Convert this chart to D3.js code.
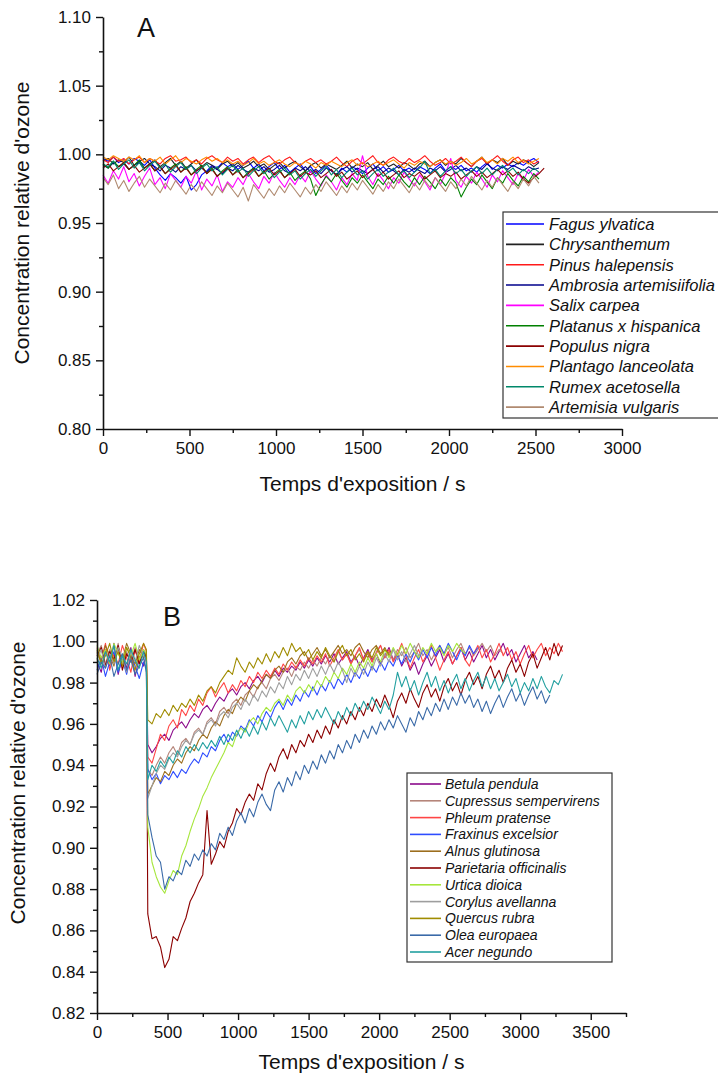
<!DOCTYPE html>
<html>
<head>
<meta charset="utf-8">
<script src="https://cdn.jsdelivr.net/npm/d3@7"></script>
<style>
  body { margin: 0; background: #fff; }
  svg { display: block; }
  text { font-family: "Liberation Sans", Arial, sans-serif; fill: #111; }
</style>
</head>
<body>
<svg id="chart" width="718" height="1078"></svg>
<script>
// ---------- Panel A : relative ozone concentration, pollen without effect ----------
const timeA = [0,30,60,90,120,150,180,210,240,270,300,330,360,390,420,450,480,510,540,570,
  600,630,660,690,720,750,780,810,840,870,900,930,960,990,1020,1050,1080,1110,1140,1170,
  1200,1230,1260,1290,1320,1350,1380,1410,1440,1470,1500,1530,1560,1590,1620,1650,1680,1710,1740,1770,
  1800,1830,1860,1890,1920,1950,1980,2010,2040,2070,2100,2130,2160,2190,2220,2250,2280,2310,2340,2370,
  2400,2430,2460,2490,2520,2550];

const speciesA = ["Fagus ylvatica","Chrysanthemum","Pinus halepensis","Ambrosia artemisiifolia","Salix carpea",
  "Platanus x hispanica","Populus nigra","Plantago lanceolata","Rumex acetosella","Artemisia vulgaris"];

const fagusYlvatica = [.997,.995,.998,.994,.996,.993,.997,.995,.992,.996,
  .990,.985,.981,.986,.983,.979,.984,.974,.978,.985,
  .988,.992,.990,.994,.991,.993,.989,.992,.995,.990,
  .993,.988,.991,.994,.989,.992,.987,.990,.993,.988,
  .991,.986,.989,.992,.988,.985,.990,.987,.991,.989,
  .986,.990,.993,.988,.991,.987,.989,.992,.988,.990,
  .987,.991,.989,.986,.990,.993,.988,.991,.989,.992,
  .988,.990,.987,.991,.994,.989,.992,.990,.993,.991,
  .994,.992,.995,.997,.994];
const chrysanthemum = [.995,.997,.993,.996,.994,.998,.992,.995,.997,.993,
  .996,.991,.994,.997,.992,.995,.990,.993,.996,.991,
  .994,.992,.989,.993,.995,.991,.994,.990,.992,.995,
  .991,.993,.989,.992,.994,.990,.993,.995,.991,.988,
  .992,.994,.990,.993,.991,.989,.992,.995,.990,.993,
  .991,.994,.989,.992,.995,.991,.993,.990,.994,.992,
  .989,.993,.995,.991,.994,.996,.992,.995,.993,.997,
  .994,.991,.995,.998,.993,.996,.994,.997,.992,.995,
  .993,.996,.994,.991,.994];
const pinusHalepensis = [.996,.994,.998,.995,.997,.993,.996,.998,.994,.997,
  .995,.993,.997,.999,.995,.996,.998,.994,.996,.993,
  .997,.999,.996,.994,.998,.995,.997,.993,.996,.998,
  .994,.997,.999,.995,.993,.996,.998,.994,.992,.995,
  .997,.994,.996,.993,.995,.998,.994,.991,.995,.997,
  .993,.996,.999,.994,.992,.996,.998,.995,.993,.997,
  .994,.996,.999,.995,.992,.994,.997,.993,.995,.998,
  .994,.991,.995,.997,.993,.996,.999,.995,.992,.996,
  .998,.994,.996,.993,.995];
const ambrosiaArtemisiifolia = [.992,.990,.994,.991,.993,.989,.992,.994,.990,.993,
  .991,.988,.992,.990,.987,.991,.989,.992,.988,.990,
  .987,.991,.989,.986,.990,.988,.992,.989,.987,.990,
  .988,.991,.987,.989,.992,.988,.986,.990,.988,.991,
  .987,.989,.986,.990,.988,.985,.989,.991,.987,.990,
  .988,.986,.989,.991,.987,.990,.988,.985,.989,.987,
  .990,.988,.986,.990,.988,.991,.987,.989,.992,.988,
  .990,.987,.991,.989,.993,.990,.988,.991,.989,.992,
  .990,.988,.991,.989,.990];
const salixCarpea = [.985,.979,.988,.982,.991,.980,.986,.977,.984,.990,
  .978,.983,.975,.986,.981,.976,.984,.979,.988,.974,
  .982,.977,.985,.973,.980,.976,.983,.978,.986,.980,
  .975,.984,.979,.987,.981,.976,.983,.978,.985,.980,
  .988,.982,.977,.985,.980,.974,.983,.978,.986,.981,
  .999,.984,.978,.986,.981,.975,.983,.979,.987,.982,
  .977,.985,.980,.974,.983,.978,.986,.997,.981,.976,
  .984,.979,.987,.982,.976,.985,.980,.988,.983,.978,
  .986,.981,.989,.984,.987];
const platanusHispanica = [.993,.990,.995,.991,.994,.989,.992,.996,.990,.993,
  .988,.991,.986,.990,.993,.987,.991,.985,.989,.992,
  .986,.990,.984,.988,.991,.985,.989,.983,.987,.990,
  .984,.988,.982,.986,.989,.983,.987,.981,.985,.988,
  .982,.970,.978,.984,.980,.986,.981,.976,.983,.979,
  .985,.980,.975,.982,.978,.984,.979,.985,.980,.976,
  .983,.978,.984,.980,.975,.982,.977,.983,.979,.969,
  .976,.982,.978,.985,.980,.975,.983,.979,.986,.981,
  .977,.984,.980,.986,.982];
const populusNigra = [.990,.993,.988,.991,.994,.989,.992,.987,.990,.993,
  .988,.991,.986,.989,.992,.987,.990,.985,.988,.991,
  .986,.989,.984,.987,.990,.985,.988,.983,.986,.989,
  .984,.987,.990,.985,.988,.983,.986,.989,.984,.987,
  .985,.988,.983,.986,.989,.984,.987,.982,.985,.988,
  .983,.986,.989,.984,.987,.982,.985,.988,.983,.986,
  .984,.987,.982,.985,.988,.983,.986,.984,.987,.982,
  .985,.988,.984,.987,.983,.986,.989,.985,.988,.984,
  .987,.982,.979,.983,.986,.990];
const plantagoLanceolata = [.998,.996,.999,.997,.995,.998,.996,.999,.994,.997,
  .995,.998,.993,.996,.999,.994,.997,.995,.993,.996,
  .998,.995,.997,.994,.996,.993,.995,.992,.994,.997,
  .993,.995,.992,.994,.996,.993,.991,.994,.992,.995,
  .993,.990,.994,.992,.995,.993,.991,.994,.996,.992,
  .994,.991,.993,.995,.992,.994,.996,.993,.990,.994,
  .992,.995,.993,.991,.994,.996,.993,.995,.992,.994,
  .997,.993,.995,.998,.994,.996,.993,.997,.995,.998,
  .994,.996,.993,.995,.997];
const rumexAcetosella = [.993,.991,.995,.989,.993,.996,.990,.994,.988,.992,
  .995,.990,.993,.987,.991,.994,.989,.992,.986,.990,
  .993,.988,.991,.985,.989,.992,.987,.990,.984,.988,
  .991,.986,.989,.983,.987,.990,.985,.988,.982,.986,
  .989,.984,.988,.991,.985,.989,.983,.987,.990,.985,
  .988,.982,.986,.989,.984,.987,.990,.985,.988,.983,
  .987,.990,.995,.986,.989,.984,.988,.991,.986,.989,
  .984,.988,.991,.986,.990,.985,.989,.992,.987,.990,
  .985,.989,.986,.990,.987];
const artemisiaVulgaris = [.983,.978,.985,.975,.981,.973,.979,.984,.976,.982,
  .977,.972,.979,.974,.981,.976,.971,.978,.973,.980,
  .975,.970,.977,.972,.979,.974,.969,.976,.966,.978,
  .973,.968,.975,.970,.977,.972,.979,.974,.969,.976,
  .971,.978,.973,.980,.975,.970,.977,.972,.979,.974,
  .981,.976,.971,.978,.973,.980,.975,.982,.977,.972,
  .979,.974,.981,.976,.983,.978,.973,.980,.975,.982,
  .977,.984,.979,.974,.981,.976,.983,.978,.973,.980,
  .975,.982,.977,.984,.979];

const valuesA = [fagusYlvatica, chrysanthemum, pinusHalepensis, ambrosiaArtemisiifolia, salixCarpea,
  platanusHispanica, populusNigra, plantagoLanceolata, rumexAcetosella, artemisiaVulgaris];

// ---------- Panel B : relative ozone concentration, pollen reacting with ozone ----------
const timeB = [0,30,60,90,120,150,180,210,240,270,300,330,350,
  360,390,420,450,480,510,540,570,600,630,660,690,720,750,780,810,840,870,900,930,
  960,990,1020,1050,1080,1110,1140,1170,1200,1230,1260,1290,1320,1350,1380,1410,1440,1470,1500,1530,
  1560,1590,1620,1650,1680,1710,1740,1770,1800,1830,1860,1890,1920,1950,1980,2010,2040,2070,2100,2130,
  2160,2190,2220,2250,2280,2310,2340,2370,2400,2430,2460,2490,2520,2550,2580,2610,2640,2670,2700,2730,
  2760,2790,2820,2850,2880,2910,2940,2970,3000,3030,3060,3090,3120,3150,3180,3210,3240,3270,3300];

const speciesB = ["Betula pendula","Cupressus sempervirens","Phleum pratense","Fraxinus excelsior","Alnus glutinosa",
  "Parietaria officinalis","Urtica dioica","Corylus avellanna","Quercus rubra","Olea europaea","Acer negundo"];

const betulaPendula = [.990,.985,.996,.988,.999,.984,.993,.987,.997,.983,.992,.988,.994,
  .950,.946,.949,.953,.955,.952,.957,.959,.961,.958,
  .962,.965,.963,.967,.969,.966,.970,.973,.971,.975,
  .977,.974,.978,.980,.977,.981,.983,.980,.984,.982,
  .986,.983,.987,.985,.988,.986,.990,.987,.991,.988,
  .992,.989,.993,.990,.994,.989,.992,.995,.990,.993,
  .988,.992,.996,.991,.994,.989,.993,.997,.991,.994,
  .988,.992,.986,.990,.984,.989,.993,.988,.992,.996,
  .990,.994,.989,.993,.997,.991,.995,.990,.994,.998,
  .992,.996,.991,.995,.999,.993,.996,.990,.994,.998,
  .992,.995,.991];
const cupressusSempervirens = [.994,.998,.989,.996,.991,.999,.987,.995,.990,.997,.992,.996,.993,
  .938,.935,.940,.944,.941,.946,.949,.945,.951,.953,
  .950,.956,.958,.955,.961,.963,.960,.966,.968,.965,
  .970,.972,.969,.974,.976,.973,.978,.980,.977,.982,
  .984,.981,.985,.987,.983,.988,.986,.990,.987,.991,
  .988,.992,.989,.993,.990,.995,.991,.994,.989,.993,
  .996,.991,.994,.990,.995,.998,.992,.995,.991,.996,
  .993,.997,.992,.995,.999,.993,.996,.991,.995,.998,
  .994,.997,.992,.996,.999,.994,.997,.993,.996,.999,
  .995,.998,.993,.996,.994];
const phleumPratense = [.997,.991,.999,.986,.994,.989,.998,.992,.985,.996,.990,.999,.995,
  .944,.941,.948,.955,.952,.959,.962,.958,.967,.964,
  .969,.966,.972,.969,.975,.978,.973,.977,.980,.975,
  .979,.976,.981,.978,.983,.980,.985,.982,.986,.983,
  .987,.984,.989,.986,.990,.987,.991,.988,.992,.989,
  .993,.990,.994,.988,.992,.996,.991,.994,.989,.993,
  .997,.991,.995,.990,.994,.998,.992,.996,.990,.994,
  .999,.993,.987,.992,.996,.990,.994,.998,.992,.986,
  .991,.995,.989,.993,.997,.991,.988,.994,.998,.992,
  .996,.990,.994,.999,.993,.997,.991,.995,.989,.994,
  .998,.992,.996,.999,.993,.997,.994,.999,.995];
const fraxinusExcelsior = [.986,.992,.983,.990,.995,.985,.991,.984,.993,.988,.982,.990,.987,
  .938,.933,.936,.931,.935,.933,.937,.934,.938,.936,
  .940,.943,.941,.946,.944,.949,.947,.952,.955,.951,
  .956,.954,.959,.957,.962,.959,.964,.961,.966,.963,
  .968,.971,.967,.972,.969,.974,.971,.976,.973,.978,
  .974,.979,.976,.981,.977,.982,.979,.984,.980,.985,
  .982,.987,.983,.988,.985,.990,.986,.991,.988,.993,
  .989,.994,.990,.995,.991,.996,.992,.997,.993,.998,
  .994,.999,.995,.991,.996,.993,.998,.994,.997];
const alnusGlutinosa = [.995,.990,.998,.993,.988,.997,.991,.999,.994,.989,.996,.992,.995,
  .926,.930,.934,.932,.937,.935,.940,.943,.941,.946,
  .949,.947,.952,.955,.953,.958,.961,.959,.964,.967,
  .965,.970,.973,.971,.976,.979,.977,.981,.984,.982,
  .986,.988,.985,.990,.992,.989,.993,.995,.991,.994,
  .997,.993,.996,.992,.995,.998,.994,.996,.993,.997,
  .999,.995,.992,.996,.998,.994,.997,.993,.996];
const parietariaOfficinalis = [.993,.997,.988,.995,.991,.998,.986,.994,.990,.996,.989,.995,.992,
  .868,.856,.857,.852,.842,.846,.857,.855,.861,.866,
  .874,.878,.883,.887,.918,.892,.897,.903,.900,.908,
  .912,.919,.916,.922,.926,.923,.931,.928,.936,.941,
  .937,.944,.948,.943,.950,.946,.952,.949,.955,.951,
  .957,.953,.959,.955,.962,.958,.964,.960,.966,.962,
  .968,.964,.970,.966,.972,.968,.974,.969,.963,.971,
  .975,.970,.977,.972,.968,.975,.979,.973,.977,.971,
  .978,.982,.976,.980,.974,.981,.985,.979,.983,.977,
  .984,.988,.982,.986,.980,.987,.991,.985,.989,.983,
  .990,.994,.987,.992,.997,.991,.999,.993,.998];
const urticaDioica = [.998,.992,.996,.989,.999,.994,.990,.997,.993,.999,.991,.996,.994,
  .910,.893,.886,.881,.878,.884,.889,.887,.896,.901,
  .908,.914,.919,.925,.929,.934,.938,.942,.946,.951,
  .949,.955,.958,.956,.961,.963,.960,.965,.968,.966,
  .970,.972,.969,.974,.971,.976,.978,.975,.979,.976,
  .981,.978,.983,.980,.985,.982,.987,.984,.989,.985,
  .990,.987,.992,.988,.994,.990,.996,.992,.997,.993,
  .998,.994,.999,.995,.992,.997,.994,.999,.995,.997,
  .993,.998,.995,.999,.996,.994];
const corylusAvellanna = [.991,.996,.987,.994,.989,.997,.992,.985,.995,.990,.998,.993,.991,
  .924,.930,.936,.940,.938,.943,.946,.944,.949,.952,
  .950,.955,.957,.955,.960,.962,.959,.964,.966,.963,
  .968,.970,.967,.972,.969,.974,.971,.976,.973,.978,
  .975,.980,.977,.983,.979,.984,.981,.986,.982,.987,
  .983,.988,.984,.989,.985,.990,.986,.980,.987,.983,
  .988,.984,.990,.986,.992,.988,.994,.990,.996,.991,
  .995,.990,.994,.998,.993,.996];
const quercusRubra = [.996,.989,.993,.999,.990,.995,.988,.997,.992,.986,.994,.999,.996,
  .962,.960,.965,.963,.967,.964,.969,.966,.970,.968,
  .972,.969,.974,.971,.976,.978,.975,.980,.983,.986,
  .984,.992,.988,.985,.990,.987,.992,.989,.994,.990,
  .995,.992,.997,.993,.999,.995,.997,.993,.996,.991,
  .995,.992,.997,.993,.990,.995,.998,.993,.996,.991,
  .994,.990,.995,.992,.997,.993,.996,.994];
const oleaEuropaea = [.984,.990,.987,.993,.983,.989,.994,.986,.991,.984,.988,.992,.985,
  .916,.905,.896,.893,.880,.886,.884,.889,.887,.894,
  .891,.897,.894,.899,.896,.902,.899,.907,.904,.910,
  .906,.913,.917,.912,.919,.915,.922,.926,.921,.918,
  .928,.932,.927,.934,.930,.937,.933,.940,.936,.942,
  .938,.945,.941,.947,.943,.950,.946,.952,.948,.955,
  .951,.957,.953,.959,.955,.961,.957,.962,.958,.964,
  .960,.956,.963,.959,.966,.962,.968,.964,.970,.966,
  .972,.967,.973,.969,.975,.970,.974,.968,.972,.966,
  .971,.965,.970,.974,.968,.973,.977,.971,.975,.969,
  .974,.978,.972,.976,.970,.974];
const acerNegundo = [.992,.987,.995,.990,.998,.986,.993,.989,.996,.991,.987,.995,.990,
  .933,.940,.937,.942,.939,.944,.941,.947,.944,.949,
  .946,.950,.947,.951,.948,.952,.949,.954,.950,.955,
  .952,.957,.953,.958,.954,.959,.955,.961,.957,.963,
  .959,.964,.960,.956,.962,.958,.964,.960,.966,.962,
  .967,.963,.968,.964,.960,.966,.962,.968,.964,.970,
  .966,.971,.967,.973,.969,.965,.971,.967,.974,.985,
  .978,.983,.976,.981,.974,.980,.985,.978,.983,.976,
  .981,.975,.980,.984,.977,.982,.976,.981,.985,.978,
  .983,.977,.982,.976,.980,.984,.978,.982,.975,.980,
  .976,.982,.977,.983,.978,.975,.981,.979,.984];

const valuesB = [betulaPendula, cupressusSempervirens, phleumPratense, fraxinusExcelsior, alnusGlutinosa,
  parietariaOfficinalis, urticaDioica, corylusAvellanna, quercusRubra, oleaEuropaea, acerNegundo];

// Axis ticks
const yTicksA = [0.80,0.85,0.90,0.95,1.00,1.05,1.10];
const xTicksA = [0,500,1000,1500,2000,2500,3000];
const yTicksB = [0.82,0.84,0.86,0.88,0.90,0.92,0.94,0.96,0.98,1.00,1.02];
const xTicksB = [0,500,1000,1500,2000,2500,3000,3500];

// ---------- Styles ----------
const coloursA = ["#0000ff","#222222","#ff1a1a","#00008b","#ff00ff","#008000","#8b0000","#ff8c00","#00886a","#b08a70"];
const coloursB = ["#8b0a8b","#b5857a","#ff4545","#2e4dff","#9c6e1e","#8b0000","#a6e63c","#9e9e9e","#a08c00","#3a6aa8","#23a0a0"];

const svg = d3.select("#chart");

function drawPanel(p) {
  const x = d3.scaleLinear().domain(p.xDomain).range([p.left, p.right]);
  const y = d3.scaleLinear().domain(p.yDomain).range([p.bottom, p.top]);
  const g = svg.append("g");

  // data lines
  const line = d3.line().x((v, i) => x(p.time[i])).y(v => y(v));
  p.values.forEach((vals, k) => {
    g.append("path").datum(vals)
      .attr("d", line)
      .attr("fill", "none")
      .attr("stroke", p.colours[k])
      .attr("stroke-width", 1.1)
      .attr("stroke-linejoin", "round");
  });

  // minor ticks
  g.append("g").attr("transform", `translate(0,${p.bottom})`)
    .call(d3.axisBottom(x).tickValues(p.xMinor).tickSize(4).tickFormat(""))
    .call(a => a.select(".domain").remove());
  g.append("g").attr("transform", `translate(${p.left},0)`)
    .call(d3.axisLeft(y).tickValues(p.yMinor).tickSize(4).tickFormat(""))
    .call(a => a.select(".domain").remove());

  // major axes
  const ax = g.append("g").attr("transform", `translate(0,${p.bottom})`)
    .call(d3.axisBottom(x).tickValues(p.xTicks).tickSize(7).tickSizeOuter(0).tickPadding(6).tickFormat(d3.format("d")));
  const ay = g.append("g").attr("transform", `translate(${p.left},0)`)
    .call(d3.axisLeft(y).tickValues(p.yTicks).tickSize(7).tickSizeOuter(0).tickPadding(5).tickFormat(d3.format(".2f")));
  [ax, ay].forEach(a => {
    a.selectAll("text").attr("font-size", 17).attr("font-family", "Liberation Sans, Arial, sans-serif").attr("fill", "#111");
    a.select(".domain").attr("stroke-width", 1.6).attr("stroke", "#111");
    a.selectAll(".tick line").attr("stroke-width", 1.4).attr("stroke", "#111");
  });
  g.selectAll("g.tick line").attr("stroke", "#111").attr("stroke-width", 1.4);

  // titles
  g.append("text")
    .attr("x", (p.left + p.right) / 2).attr("y", p.xTitleY)
    .attr("text-anchor", "middle").attr("font-size", 21)
    .text("Temps d'exposition / s");
  g.append("text")
    .attr("transform", `translate(${p.yTitleX},${p.yTitleY}) rotate(-90)`)
    .attr("text-anchor", "middle").attr("font-size", 21)
    .text("Concentration relative d'ozone");
  g.append("text")
    .attr("x", p.letterX).attr("y", p.letterY)
    .attr("text-anchor", "middle")
    .attr("font-family", "Liberation Serif, Times New Roman, serif")
    .attr("font-size", 27)
    .text(p.letter);

  // legend
  const L = p.legend;
  const lg = g.append("g");
  lg.append("rect")
    .attr("x", L.x).attr("y", L.y).attr("width", L.w).attr("height", L.h)
    .attr("fill", "#fff").attr("stroke", "#333").attr("stroke-width", 1.2);
  p.names.forEach((name, k) => {
    const cy = L.y + L.first + k * L.step;
    lg.append("line")
      .attr("x1", L.x + 3).attr("x2", L.x + 3 + L.lineLen)
      .attr("y1", cy).attr("y2", cy)
      .attr("stroke", p.colours[k]).attr("stroke-width", 1.6);
    lg.append("text")
      .attr("x", L.x + L.lineLen + L.gap).attr("y", cy)
      .attr("dy", "0.36em")
      .attr("font-size", L.fontSize).attr("font-style", "italic")
      .text(name);
  });
}

const range = (a, b, s) => d3.range(a, b + s / 2, s);

drawPanel({
  time: timeA, values: valuesA, colours: coloursA, names: speciesA,
  xDomain: [0, 3000], yDomain: [0.80, 1.10],
  left: 103, right: 622, top: 17, bottom: 429,
  xTicks: xTicksA, yTicks: yTicksA,
  xMinor: range(250, 2750, 500), yMinor: range(0.825, 1.075, 0.05),
  xTitleY: 491, yTitleX: 29, yTitleY: 223,
  letter: "A", letterX: 146, letterY: 37,
  legend: { x: 503, y: 212, w: 240, h: 206, first: 12, step: 20.35, lineLen: 38, gap: 8, fontSize: 16.5 }
});

drawPanel({
  time: timeB, values: valuesB, colours: coloursB, names: speciesB,
  xDomain: [0, 3750], yDomain: [0.82, 1.02],
  left: 97, right: 626, top: 600, bottom: 1013,
  xTicks: xTicksB, yTicks: yTicksB,
  xMinor: range(250, 3750, 500), yMinor: range(0.83, 1.01, 0.02),
  xTitleY: 1069, yTitleX: 25, yTitleY: 783,
  letter: "B", letterX: 172, letterY: 626,
  legend: { x: 407, y: 773, w: 205, h: 189, first: 11, step: 16.8, lineLen: 31, gap: 7, fontSize: 14 }
});
</script>
</body>
</html>
